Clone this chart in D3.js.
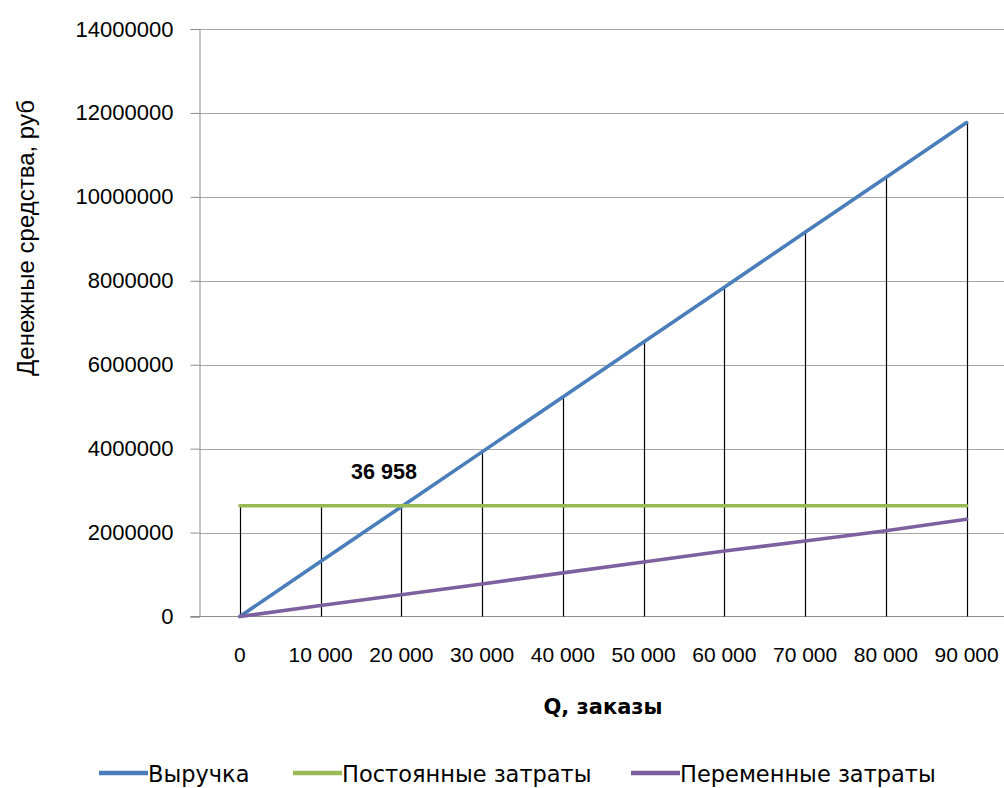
<!DOCTYPE html>
<html>
<head>
<meta charset="utf-8">
<script src="https://cdn.jsdelivr.net/npm/d3@7"></script>
<style>
  html, body { margin: 0; padding: 0; background: #fff; }
  svg { display: block; }
</style>
</head>
<body>
<svg id="chart" width="1004" height="788"></svg>
<script>
// Break-even chart: revenue, fixed and variable costs by order volume
const categories = ["0", "10 000", "20 000", "30 000", "40 000", "50 000", "60 000", "70 000", "80 000", "90 000"];
const revenue = [0, 1308000, 2616000, 3923000, 5231000, 6539000, 7847000, 9155000, 10462000, 11770000];
const fixedCosts = [2640000, 2640000, 2640000, 2640000, 2640000, 2640000, 2640000, 2640000, 2640000, 2640000];
const variableCosts = [0, 260000, 520000, 775000, 1040000, 1300000, 1560000, 1800000, 2045000, 2316000];
const yTicks = [0, 2000000, 4000000, 6000000, 8000000, 10000000, 12000000, 14000000];
const seriesNames = ["Выручка", "Постоянные затраты", "Переменные затраты"];
const seriesColors = ["#4a7ebb", "#98b954", "#7d60a0"];
const breakEvenLabel = "36 958";

const svg = d3.select("#chart");
const plotLeft = 199.5, plotRight = 1007, plotTop = 29, plotBottom = 616.5;

const x = d3.scaleBand().domain(categories).range([plotLeft, plotRight]);
const y = d3.scaleLinear().domain([0, 14000000]).range([plotBottom, plotTop]);
const cx = c => x(c) + x.bandwidth() / 2;

// horizontal gridlines
svg.append("g")
  .selectAll("line")
  .data(yTicks.slice(1))
  .join("line")
  .attr("x1", plotLeft).attr("x2", 1004)
  .attr("y1", d => Math.round(y(d)) + 0.5).attr("y2", d => Math.round(y(d)) + 0.5)
  .attr("stroke", "#a6a6a6").attr("stroke-width", 1);

// y axis
const yAxis = svg.append("g")
  .attr("transform", `translate(${plotLeft},0)`)
  .call(d3.axisLeft(y).tickValues(yTicks).tickSize(9).tickPadding(17).tickFormat(d3.format("d")));
yAxis.select(".domain").attr("stroke", "#8c8c8c");
yAxis.selectAll(".tick line").attr("stroke", "#8c8c8c");
yAxis.selectAll(".tick text")
  .attr("font-family", "'Liberation Sans', Arial, sans-serif")
  .attr("font-size", 22).attr("fill", "#000");

// x axis baseline
svg.append("line")
  .attr("x1", plotLeft - 9).attr("x2", 1004)
  .attr("y1", y(0)).attr("y2", y(0))
  .attr("stroke", "#8c8c8c").attr("stroke-width", 1);

// x category labels
svg.append("g")
  .selectAll("text")
  .data(categories)
  .join("text")
  .attr("x", d => cx(d))
  .attr("y", 662)
  .attr("text-anchor", "middle")
  .attr("font-family", "'Liberation Sans', Arial, sans-serif")
  .attr("font-size", 21)
  .attr("fill", "#000")
  .text(d => d);

// drop lines from the highest series value down to zero
svg.append("g")
  .selectAll("line")
  .data(categories)
  .join("line")
  .attr("x1", d => Math.round(cx(d)) + 0.5).attr("x2", d => Math.round(cx(d)) + 0.5)
  .attr("y1", (d, i) => y(Math.max(revenue[i], fixedCosts[i], variableCosts[i])))
  .attr("y2", y(0))
  .attr("stroke", "#000").attr("stroke-width", 1.2);

// series lines
const line = d3.line().x((d, i) => cx(categories[i])).y(d => y(d));
[revenue, fixedCosts, variableCosts].forEach((vals, k) => {
  svg.append("path")
    .datum(vals)
    .attr("d", line)
    .attr("fill", "none")
    .attr("stroke", seriesColors[k])
    .attr("stroke-width", 3.6)
    .attr("stroke-linejoin", "round")
    .attr("stroke-linecap", "round");
});

// break-even annotation
svg.append("text")
  .attr("x", 384).attr("y", 479)
  .attr("text-anchor", "middle")
  .attr("font-family", "'Liberation Sans', Arial, sans-serif")
  .attr("font-weight", "bold")
  .attr("font-size", 21.5)
  .attr("fill", "#000")
  .text(breakEvenLabel);

// axis titles
svg.append("text")
  .attr("transform", "translate(34,238) rotate(-90)")
  .attr("text-anchor", "middle")
  .attr("font-family", "'Liberation Sans', Arial, sans-serif")
  .attr("font-size", 24)
  .attr("fill", "#000")
  .text("Денежные средства, руб");

svg.append("text")
  .attr("x", 603).attr("y", 714)
  .attr("text-anchor", "middle")
  .attr("font-family", "'DejaVu Sans', sans-serif")
  .attr("font-weight", "bold")
  .attr("font-size", 21)
  .attr("fill", "#000")
  .text("Q, заказы");

// legend
const legendX = [99, 293, 631];
const lg = svg.append("g");
seriesNames.forEach((name, k) => {
  lg.append("line")
    .attr("x1", legendX[k]).attr("x2", legendX[k] + 49)
    .attr("y1", 773).attr("y2", 773)
    .attr("stroke", seriesColors[k]).attr("stroke-width", 4.5);
  lg.append("text")
    .attr("x", legendX[k] + 49).attr("y", 782)
    .attr("font-family", "'DejaVu Sans', sans-serif")
    .attr("font-size", 22.5)
    .attr("fill", "#000")
    .text(name);
});
</script>
</body>
</html>
